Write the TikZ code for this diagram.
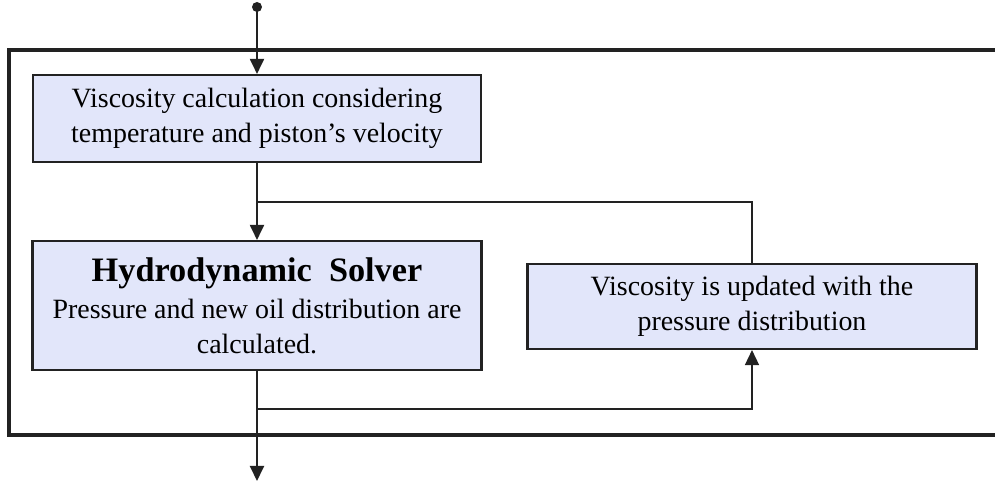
\documentclass[tikz,border=0pt]{standalone}
\usepackage{fontspec}
\setmainfont{Liberation Serif}
\usepackage{xcolor}
\usepackage{tikz}
\usetikzlibrary{arrows.meta}
\definecolor{boxblue}{HTML}{E2E6FA}
\definecolor{darkline}{HTML}{222222}

\begin{document}
\begin{tikzpicture}[x=0.02cm, y=-0.02cm,
    blok/.style={draw=darkline, line width=1.2pt, fill=boxblue, align=center, inner sep=0pt,
                 font=\fontsize{15.9}{19.9}\selectfont},
    pijl/.style={-{Triangle[length=0.3cm, width=0.28cm]}, line width=1.1pt, darkline},
    lijn/.style={line width=0.8pt, darkline}]
    \useasboundingbox (0,0) rectangle (995,482);

    % Kader
    \draw[line width=2pt, darkline] (995,50) -- (9,50) -- (9,435) -- (995,435);

    % Blokken
    \node[blok, minimum width=8.96cm, minimum height=1.74cm] (visc) at (257,118.5)
        {Viscosity calculation considering\\temperature and piston's velocity};
    \node[blok, minimum width=8.98cm, minimum height=2.58cm] (hydro) at (257,305.5)
        {{\fontsize{19.5}{24}\selectfont\bfseries Hydrodynamic\ \ Solver}\\[1pt]
         Pressure and new oil distribution are\\calculated.};
    \node[blok, minimum width=8.98cm, minimum height=1.70cm] (upd) at (752,306.5)
        {Viscosity is updated with the\\pressure distribution};

    % Ingang en uitgang
    \fill[darkline] (257,7) circle (0.1cm);
    \coordinate (in) at (257,7);
    \coordinate (out) at (257,481);
    \coordinate (split1) at (257,202);
    \coordinate (split2) at (257,409);

    % Pijlen
    \draw[pijl] (in) -- (visc.north);
    \draw[pijl] (visc.south) -- (hydro.north);
    \draw[pijl] (hydro.south) -- (out);

    % Terugkoppeling
    \draw[lijn] (split1) -| (upd.north);
    \draw[pijl, line width=0.8pt] (split2) -| (upd.south);

\end{tikzpicture}
\end{document}
